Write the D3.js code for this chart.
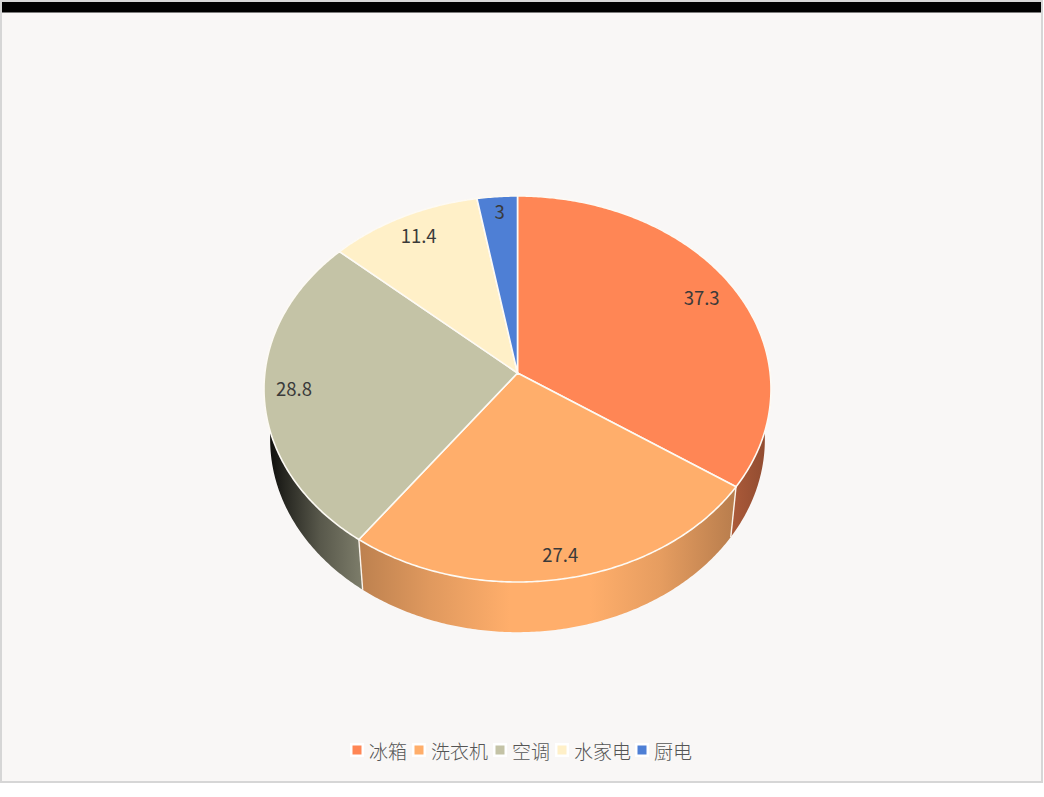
<!DOCTYPE html>
<html>
<head>
<meta charset="utf-8">
<script src="https://cdn.jsdelivr.net/npm/d3@7"></script>
<style>
  html, body { margin: 0; padding: 0; background: #fff; }
  svg { display: block; }
  text { font-family: "Noto Sans CJK SC", "Noto Sans", sans-serif; }
</style>
</head>
<body>
<div id="chart"></div>
<script>
var categories = ["冰箱", "洗衣机", "空调", "水家电", "厨电"];
var values = [37.3, 27.4, 28.8, 11.4, 3];
var colors = ["#ff8655", "#ffae6b", "#c4c3a6", "#fff0c8", "#4e7fd5"];

// brightness of the wall of each slice, from left to right
var wallShade = [
  [[730, 0.68], [768, 0.56]],
  [[360, 0.74], [430, 0.88], [510, 1], [590, 1], [660, 0.9], [735, 0.72]],
  [[268, 0.06], [285, 0.2], [320, 0.45], [362, 0.64]],
  [[268, 0.5], [768, 0.5]],
  [[268, 0.5], [768, 0.5]]
];

var width = 1044, height = 797;
var legendX = [357, 419, 500, 562, 642];
// small corrections of the label spots, same order as categories
var labelDx = [-5, 2, -2, 2, 0];
var labelDy = [0, 3, -3, 0, -6];

var svg = d3.select("#chart").append("svg")
    .attr("width", width)
    .attr("height", height);

// frame
svg.append("rect").attr("x", 1).attr("y", 1).attr("width", 1041).attr("height", 781)
    .attr("fill", "#f9f7f6").attr("stroke", "#d6d6d6").attr("stroke-width", 2);
svg.append("rect").attr("x", 2).attr("y", 2).attr("width", 1039).attr("height", 10.5)
    .attr("fill", "#000");

// the disc is seen in perspective, so the centre of the slices is not the centre of the ellipse
function project(face, a, r) {
  var s = Math.sin(a) * r, t = -Math.cos(a) * r;
  var w = 1 + face.c * t;
  return [517.5 + face.k * s / w, (face.a * t + face.b) / w];
}
var topFace = {k: 252.6, a: 160.75, b: 373, c: -0.0829};
var bottomFace = {k: 246.5, a: 156.3, b: 423.4, c: -0.083};

var pie = d3.pie().sort(null);
var arcs = pie(values);
var color = d3.scaleOrdinal().domain(categories).range(colors);
var line = d3.line();

function rim(face, d) {
  var n = Math.max(2, Math.ceil((d.endAngle - d.startAngle) / 0.01));
  return d3.range(n + 1).map(function(i) {
    return project(face, d.startAngle + (d.endAngle - d.startAngle) * i / n, 1);
  });
}

// walls
var defs = svg.append("defs");
arcs.forEach(function(d, i) {
  var base = d3.rgb(colors[i]);
  var x0 = wallShade[i][0][0], x1 = wallShade[i][wallShade[i].length - 1][0];
  defs.append("linearGradient")
      .attr("id", "wall" + i)
      .attr("gradientUnits", "userSpaceOnUse")
      .attr("x1", x0).attr("x2", x1).attr("y1", 0).attr("y2", 0)
    .selectAll("stop")
    .data(wallShade[i])
    .enter().append("stop")
      .attr("offset", function(p) { return (p[0] - x0) / (x1 - x0); })
      .attr("stop-color", function(p) {
        return d3.rgb(base.r * p[1], base.g * p[1], base.b * p[1]).formatHex();
      });
});

svg.append("g").selectAll("path")
  .data(arcs)
  .enter().append("path")
    .attr("d", function(d) {
      return line(rim(topFace, d).concat(rim(bottomFace, d).reverse())) + "Z";
    })
    .attr("fill", function(d, i) { return "url(#wall" + i + ")"; });

// white edges between the walls
svg.append("g").selectAll("line")
  .data(arcs.slice(0, 2))
  .enter().append("line")
    .attr("x1", function(d) { return project(topFace, d.endAngle, 1)[0]; })
    .attr("y1", function(d) { return project(topFace, d.endAngle, 1)[1]; })
    .attr("x2", function(d) { return project(bottomFace, d.endAngle, 1)[0]; })
    .attr("y2", function(d) { return project(bottomFace, d.endAngle, 1)[1]; })
    .attr("stroke", "#fbf4ec")
    .attr("stroke-width", 1.4);

// top of the slices
svg.append("g").selectAll("path")
  .data(arcs)
  .enter().append("path")
    .attr("d", function(d) {
      return line([project(topFace, 0, 0)].concat(rim(topFace, d))) + "Z";
    })
    .attr("fill", function(d, i) { return color(categories[i]); })
    .attr("stroke", "#fdfaf4")
    .attr("stroke-width", 1.6)
    .attr("stroke-linejoin", "round");

// value labels
svg.append("g").selectAll("text")
  .data(arcs)
  .enter().append("text")
    .attr("x", function(d, i) { return project(topFace, (d.startAngle + d.endAngle) / 2, 0.875)[0] + labelDx[i]; })
    .attr("y", function(d, i) { return project(topFace, (d.startAngle + d.endAngle) / 2, 0.875)[1] + labelDy[i]; })
    .attr("text-anchor", "middle")
    .attr("dominant-baseline", "central")
    .attr("font-size", 18.5)
    .attr("fill", "#3a3a3a")
    .text(function(d) { return d.value; });

// legend
var legend = svg.append("g").selectAll("g")
  .data(categories)
  .enter().append("g")
    .attr("transform", function(d, i) { return "translate(" + legendX[i] + ",750)"; });
legend.append("rect")
    .attr("x", -7).attr("y", -7).attr("width", 14).attr("height", 14)
    .attr("fill", "#fff");
legend.append("rect")
    .attr("x", -4.5).attr("y", -4.5).attr("width", 9).attr("height", 9)
    .attr("fill", function(d) { return color(d); });
legend.append("text")
    .attr("x", 12)
    .attr("y", 0)
    .attr("dominant-baseline", "central")
    .attr("font-size", 19)
    .attr("font-weight", 300)
    .attr("fill", "#555")
    .text(function(d) { return d; });
</script>
</body>
</html>
